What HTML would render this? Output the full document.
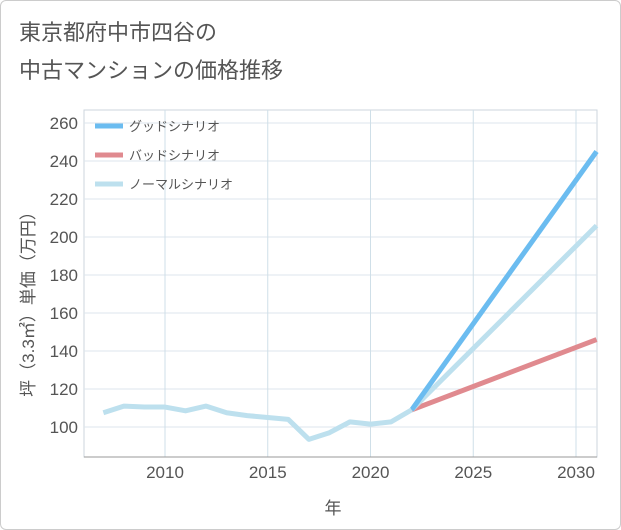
<!DOCTYPE html>
<html><head><meta charset="utf-8"><style>
body{margin:0;background:#fff;font-family:"Liberation Sans","Noto Sans CJK JP",sans-serif;}
#wrap{position:relative;width:619px;height:528px;border:1px solid #ccc;border-radius:6px;background:#fff;}
.t{position:absolute;left:18px;font-size:22px;color:#555;}
</style></head><body>
<div id="wrap">
<div class="t" style="top:14px">東京都府中市四谷の</div>
<div class="t" style="top:52px">中古マンションの価格推移</div>
<svg id="c" width="621" height="530" style="position:absolute;left:-1px;top:-1px"></svg>
</div>
<script>
const years=[2007,2008,2009,2010,2011,2012,2013,2014,2015,2016,2017,2018,2019,2020,2021,2022];
const prices=[107.5,111,110.5,110.5,108.5,111,107.5,106,105,104,93.5,97,102.7,101.5,102.7,109];
const scenYears=[2022,2031];
const good=[109,245];
const bad=[109,146];
const normal=[109,206];
const yTicks=[100,120,140,160,180,200,220,240,260];
const xTicks=[2010,2015,2020,2025,2030];
const legendLabels=["グッドシナリオ","バッドシナリオ","ノーマルシナリオ"];
const legendColors=["#6bbcf0","#e08a8f","#bde0ee"];
const X=y=>165+(y-2010)*20.55;
const Y=v=>427-(v-100)*1.9;
const svg=document.getElementById('c');
const NS='http://www.w3.org/2000/svg';
function mk(t,a,p){const e=document.createElementNS(NS,t);for(const k in a)e.setAttribute(k,a[k]);(p||svg).appendChild(e);return e;}
const L=84,R=597,T=110,B=457;
let r=mk('rect',{x:L,y:T,width:R-L,height:B-T,fill:'none',stroke:'#ccd6de'});

yTicks.forEach(v=>{
 let g=mk('line',{x1:L,x2:R,y1:Y(v),y2:Y(v),stroke:'#dde5ec'});
 
 let t=mk('text',{x:78,y:Y(v)+6,'text-anchor':'end','font-size':17,fill:'#555'});t.textContent=v;
 
});
xTicks.forEach(v=>{
 let g=mk('line',{x1:X(v),x2:X(v),y1:T,y2:B,stroke:'#cfdfe8'});
 
 let t=mk('text',{x:X(v),y:478,'text-anchor':'middle','font-size':17,fill:'#555'});t.textContent=v;
 
});
let xa=mk('line',{x1:L,x2:R,y1:B,y2:B,stroke:'#999'});

let xt=mk('text',{x:333,y:514,'text-anchor':'middle','font-size':17,fill:'#555'});xt.textContent='年';

let yt=mk('text',{x:0,y:0,'text-anchor':'middle','font-size':17,fill:'#555',transform:'translate(34,300) rotate(-90)'});yt.textContent='坪（3.3㎡）単価（万円）';

function line(xs,vs,col,name){
 let p=mk('polyline',{points:xs.map((x,i)=>X(x)+','+Y(vs[i])).join(' '),fill:'none',stroke:col,'stroke-width':5,'stroke-linejoin':'round'});
 
}
line(scenYears,bad,legendColors[1],'bad-scenario-line');
line(scenYears,normal,legendColors[2],'normal-scenario-line');
line(scenYears,good,legendColors[0],'good-scenario-line');
line(years,prices,legendColors[2],'historical-price-line');
legendLabels.forEach((s,i)=>{
 let y=126+i*29;
 let l=mk('line',{x1:95,x2:123,y1:y,y2:y,stroke:legendColors[i],'stroke-width':5});
 
 let t=mk('text',{x:129,y:y+5,'font-size':13,fill:'#555'});t.textContent=s;
 
});
</script>
</body></html>
